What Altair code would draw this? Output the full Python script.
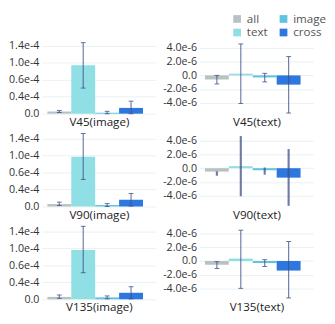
import altair as alt
import pandas as pd

groups = ["all", "text", "image", "cross"]
legend_colors = ["#b9c2c2", "#90dfe4", "#5ec4e0", "#2d77df"]

left_titles = ["V45(image)", "V90(image)", "V135(image)"]
left_vals = [
    [0.045e-4, 1.00e-4, 0.02e-4, 0.12e-4],
    [0.05e-4, 1.03e-4, 0.03e-4, 0.14e-4],
    [0.05e-4, 1.02e-4, 0.04e-4, 0.135e-4],
]
left_lo = [
    [0.025e-4, 0.53e-4, 0.0, 0.0],
    [0.02e-4, 0.56e-4, 0.0, 0.01e-4],
    [0.02e-4, 0.55e-4, 0.01e-4, 0.01e-4],
]
left_hi = [
    [0.065e-4, 1.47e-4, 0.05e-4, 0.26e-4],
    [0.09e-4, 1.51e-4, 0.06e-4, 0.27e-4],
    [0.09e-4, 1.51e-4, 0.07e-4, 0.26e-4],
]
left_ticks = [0.0, 0.35e-4, 0.7e-4, 1.05e-4, 1.4e-4]
left_labels = ["0.0", "0.4e-4", "0.6e-4", "1.0e-4", "1.4e-4"]

right_titles = ["V45(text)", "V90(text)", "V135(text)"]
right_vals = [
    [-0.6e-6, 0.25e-6, -0.3e-6, -1.35e-6],
    [-0.5e-6, 0.3e-6, -0.3e-6, -1.38e-6],
    [-0.55e-6, 0.35e-6, -0.3e-6, -1.4e-6],
]
right_lo = [
    [-1.25e-6, -4.1e-6, -0.95e-6, -5.5e-6],
    [-1.1e-6, -4.1e-6, -0.95e-6, -5.5e-6],
    [-1.1e-6, -4.0e-6, -0.8e-6, -5.4e-6],
]
right_hi = [
    [0.0, 4.6e-6, 0.3e-6, 2.75e-6],
    [-0.45e-6, 4.7e-6, 0.1e-6, 2.8e-6],
    [-0.1e-6, 4.5e-6, 0.2e-6, 2.85e-6],
]
right_ticks = [-4e-6, -2e-6, 0.0, 2e-6, 4e-6]
right_labels = ["-4.0e-6", "-2.0e-6", "0.0", "2.0e-6", "4.0e-6"]

FONT = "Open Sans"
ERR = "#3d4f8a"


def label_expr(ticks, labels):
    tol = abs(ticks[1] - ticks[0]) / 10
    expr = "''"
    for v, lab in zip(ticks, labels):
        expr = f"abs(datum.value - ({v})) < {tol} ? '{lab}' : ({expr})"
    return expr


legend = alt.Legend(
    orient="none", legendX=196, legendY=-29, columns=2, title=None,
    symbolType="square", symbolSize=64, symbolStrokeWidth=0,
    labelFontSize=12, labelFont=FONT, labelColor="#555", labelOffset=4,
    columnPadding=10, rowPadding=2, padding=0,
)


def panel(title, vals, lo, hi, domain, ticks, labels, caps=True, ew=1.2):
    df = pd.DataFrame({"group": groups, "value": vals, "lo": lo, "hi": hi})
    x = alt.X(
        "group:N", sort=groups,
        scale=alt.Scale(paddingInner=0, paddingOuter=0.385, align=0.3),
        axis=alt.Axis(labels=False, ticks=False, domain=False, title=title,
                      titleFont=FONT, titleFontSize=12, titleFontWeight="normal",
                      titleColor="#222", titlePadding=3),
    )
    yscale = alt.Scale(domain=domain, nice=False, zero=False)
    yaxis = alt.Axis(
        values=ticks, labelExpr=label_expr(ticks, labels), title=None,
        ticks=False, domain=False, grid=True, gridColor="#e8f1f3",
        labelFont=FONT, labelFontSize=11, labelColor="#333", labelPadding=3)
    base = alt.Chart(df)
    bars = base.mark_bar().encode(
        x=x,
        y=alt.Y("value:Q", scale=yscale, axis=yaxis),
        color=alt.Color("group:N", scale=alt.Scale(domain=groups, range=legend_colors),
                        legend=legend),
    )
    rule = base.mark_rule(color=ERR, strokeWidth=ew, opacity=0.75).encode(
        x=x, y=alt.Y("lo:Q", scale=yscale, axis=yaxis), y2="hi:Q")
    layers = [bars, rule]
    if caps:
        for f in ["lo", "hi"]:
            layers.append(base.mark_tick(orient="horizontal", size=5, thickness=1,
                                         color=ERR, opacity=0.8).encode(
                x=x, y=alt.Y(f"{f}:Q", scale=yscale, axis=yaxis)))
    return alt.layer(*layers).properties(width=118, height=75)


rows = []
for i in range(3):
    lp = panel(left_titles[i], left_vals[i], left_lo[i], left_hi[i],
               [0, 1.5e-4], left_ticks, left_labels)
    rp = panel(right_titles[i], right_vals[i], right_lo[i], right_hi[i],
               [-5.6e-6, 5.0e-6], right_ticks, right_labels,
               caps=(i != 1), ew=(2.2 if i == 1 else 1.2))
    rows.append(alt.hconcat(lp, rp, spacing=6))

chart = alt.vconcat(*rows, spacing=5).properties(
    padding={"left": 0, "top": 0, "right": 0, "bottom": 0}
).configure_view(stroke=None)
chart.save("out.html", embed_options={"renderer": "svg", "actions": False})
